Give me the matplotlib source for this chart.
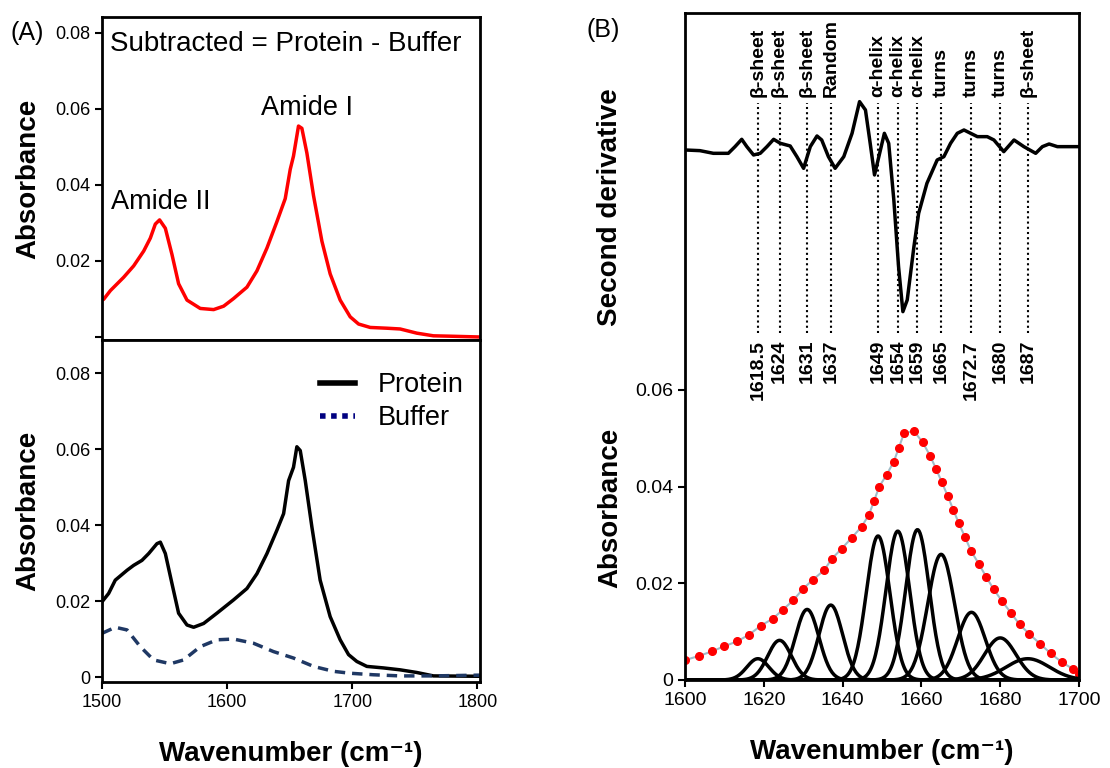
import numpy as np
import matplotlib
matplotlib.use('Agg')
import matplotlib.pyplot as plt
from matplotlib.lines import Line2D

plt.rcParams['font.family'] = ['Liberation Sans', 'DejaVu Sans']

# ---- panel A, top: subtracted spectrum ----
sub_x = [1500, 1501.3, 1506.7, 1517.3, 1525.3, 1533.3, 1538.6, 1542.6, 1546, 1550.6, 1555.9,
         1561.2, 1567.9, 1578.5, 1589.2, 1597.2, 1605.1, 1615.8, 1623.8, 1631.8, 1639.7,
         1646.4, 1650.4, 1653.0, 1657.0, 1659.7, 1663.7, 1669, 1675.7, 1682.3, 1690.3,
         1698.3, 1705, 1714.3, 1727.6, 1738.2, 1751.5, 1764.8, 1778.1, 1800.8]
sub_y = [0.0097, 0.0099, 0.0122, 0.0157, 0.0187, 0.0226, 0.0260, 0.0297, 0.0308, 0.0286, 0.0217,
         0.0140, 0.0097, 0.0075, 0.0072, 0.0081, 0.0101, 0.0131, 0.0174, 0.0234, 0.0303,
         0.0364, 0.0441, 0.0476, 0.0555, 0.0549, 0.0484, 0.0372, 0.0252, 0.0166, 0.0097,
         0.0053, 0.0034, 0.0025, 0.0023, 0.0021, 0.0010, 0.0003, 0.0002, 0.0]

# ---- panel A, bottom: protein and buffer ----
prot_x = [1500, 1505.3, 1510.6, 1520, 1525.3, 1531.9, 1537.3, 1543.9, 1546.6, 1550.6, 1555.9,
          1561.2, 1567.9, 1573.2, 1581.2, 1591.8, 1605.1, 1615.8, 1623.8, 1631.8, 1639.7,
          1645.1, 1649.1, 1653.0, 1655.7, 1658.4, 1662.4, 1667.7, 1674.3, 1682.3, 1690.3,
          1697, 1703.6, 1711.6, 1724.9, 1738.2, 1751.5, 1764.8, 1802]
prot_y = [0.0198, 0.0220, 0.0255, 0.0281, 0.0294, 0.0307, 0.0325, 0.0351, 0.0355, 0.0325, 0.0246,
          0.0168, 0.0137, 0.0131, 0.0141, 0.0168, 0.0203, 0.0233, 0.0272, 0.0325, 0.0386,
          0.0430, 0.0517, 0.0552, 0.0606, 0.0596, 0.0517, 0.0395, 0.0255, 0.0159, 0.0098,
          0.0059, 0.0041, 0.0028, 0.0024, 0.0019, 0.0012, 0.0003, 0.0002]

buf_x = [1500, 1510.6, 1520, 1530.6, 1541.2, 1554.6, 1565.2, 1578.5, 1591.8, 1605.1, 1621,
         1637, 1653, 1669, 1685, 1698.3, 1716.9, 1738.2, 1764.8, 1802]
buf_y = [0.0115, 0.0131, 0.0124, 0.0080, 0.0045, 0.0035, 0.0045, 0.0080, 0.0098, 0.0100, 0.0089,
         0.0067, 0.0050, 0.0028, 0.0015, 0.0010, 0.0006, 0.0003, 0.0003, 0.0005]

# ---- panel B: second derivative (arbitrary units) ----
d2_x = [1600.0, 1603.8, 1607.2, 1611.0, 1612.7, 1614.4, 1615.7, 1617.4, 1619.1, 1620.8, 1622.5,
        1624.2, 1626.7, 1628.4, 1630.1, 1631.8, 1633.5, 1634.7, 1636.4, 1638.1, 1640.3,
        1642.4, 1644.3, 1645.8, 1647.0, 1648.1, 1649.2, 1650.6, 1651.7, 1653.0, 1654.2,
        1655.3, 1656.4, 1658.1, 1659.3, 1661.4, 1664.0, 1665.7, 1667.4, 1669.1, 1670.8,
        1672.5, 1674.2, 1676.7, 1678.4, 1680.9, 1683.5, 1686.0, 1689.0, 1690.7, 1692.4,
        1694.5, 1700.0]
d2_y = [0, -0.02, -0.10, -0.10, 0.10, 0.32, 0.10, -0.15, -0.10, 0.10, 0.32,
        0.20, 0.12, -0.20, -0.55, 0.10, 0.42, 0.30, -0.20, -0.55, -0.20,
        0.50, 1.45, 1.20, 0.20, -0.75, -0.20, 0.50, 0.20, -1.50, -3.50,
        -4.85, -4.50, -2.90, -1.90, -1.00, -0.30, -0.20, 0.20, 0.50, 0.60,
        0.50, 0.40, 0.40, 0.30, -0.05, 0.30, 0.10, -0.10, 0.10, 0.18,
        0.10, 0.10]

# measured amide I envelope (one value per plotted dot)
env_x = [1600.0, 1603.6, 1606.8, 1610.0, 1613.3, 1616.3, 1619.2, 1622.3, 1624.8, 1627.5, 1629.9,
         1632.4, 1635.3, 1637.3, 1639.8, 1642.3, 1644.8, 1646.7, 1648.0, 1649.3, 1651.2,
         1653.0, 1654.3, 1655.6, 1658.1, 1660.3, 1662.2, 1663.7, 1665.2, 1666.7, 1668.1,
         1669.5, 1671.1, 1672.6, 1674.5, 1676.4, 1678.3, 1680.4, 1682.7, 1684.9, 1687.4,
         1690.1, 1692.8, 1695.6, 1698.4, 1700.0]
env_y = [0.0041, 0.0050, 0.0059, 0.0070, 0.0080, 0.0094, 0.0112, 0.0127, 0.0145, 0.0165, 0.0188,
         0.0207, 0.0227, 0.0251, 0.0272, 0.0294, 0.0317, 0.0342, 0.0371, 0.0400, 0.0425,
         0.0452, 0.0481, 0.0511, 0.0515, 0.0492, 0.0464, 0.0437, 0.0409, 0.0380, 0.0352,
         0.0324, 0.0295, 0.0267, 0.0241, 0.0214, 0.0188, 0.0164, 0.0139, 0.0115, 0.0095,
         0.0075, 0.0055, 0.0037, 0.0023, 0.0012]

# fitted component bands (centre, height, width)
band_pos = [1618.5, 1624, 1631, 1637, 1649, 1654, 1659, 1665, 1672.7, 1680, 1687]
band_h = [0.0044, 0.0082, 0.0146, 0.0155, 0.0298, 0.0308, 0.0311, 0.0260, 0.0140, 0.0087, 0.0044]
band_w = [2.8, 3.0, 3.0, 3.0, 3.0, 3.0, 3.0, 3.4, 3.5, 4.0, 5.5]
band_lbl = ['\u03b2-sheet', '\u03b2-sheet', '\u03b2-sheet', 'Random', '\u03b1-helix', '\u03b1-helix',
            '\u03b1-helix', 'turns', 'turns', 'turns', '\u03b2-sheet']
band_num = ['1618.5', '1624', '1631', '1637', '1649', '1654', '1659', '1665', '1672.7', '1680', '1687']


fig = plt.figure(figsize=(11.1, 7.68), dpi=100)

axA1 = fig.add_axes([0.0919, 0.5573, 0.3405, 0.4206])
axA2 = fig.add_axes([0.0919, 0.1120, 0.3405, 0.4453])
axB = fig.add_axes([0.6171, 0.1146, 0.3550, 0.8685])

for ax in (axA1, axA2, axB):
    for s in ax.spines.values():
        s.set_linewidth(2)
    ax.tick_params(direction='out', width=1.5, length=5)

# A top
axA1.plot(sub_x, sub_y, c='#ff0000', lw=2.5)
axA1.set_xlim(1500, 1802)
axA1.set_ylim(-0.0008, 0.0842)
axA1.set_xticks([])
axA1.set_yticks([0, 0.02, 0.04, 0.06, 0.08])
axA1.set_yticklabels(['', '0.02', '0.04', '0.06', '0.08'], fontsize=13)
axA1.set_ylabel('Absorbance', fontsize=20, fontweight='bold', labelpad=10)
axA1.text(0.021, 0.915, 'Subtracted = Protein - Buffer', transform=axA1.transAxes,
          fontsize=20, va='center', ha='left')
axA1.text(1507, 0.0355, 'Amide II', fontsize=19.5, va='center', ha='left')
axA1.text(1627, 0.0603, 'Amide I', fontsize=19.5, va='center', ha='left')

# A bottom
axA2.plot(prot_x, prot_y, c='black', lw=2.5)
axA2.plot(buf_x, buf_y, c='#1f3864', lw=2.5, ls=(0, (3, 2)))
axA2.set_xlim(1500, 1802)
axA2.set_ylim(-0.0013, 0.0887)
axA2.set_xticks([1500, 1600, 1700, 1800])
axA2.set_xticklabels(['1500', '1600', '1700', '1800'], fontsize=13)
axA2.set_yticks([0, 0.02, 0.04, 0.06, 0.08])
axA2.set_yticklabels(['0', '0.02', '0.04', '0.06', '0.08'], fontsize=13)
axA2.set_ylabel('Absorbance', fontsize=20, fontweight='bold', labelpad=10)
axA2.set_xlabel('Wavenumber (cm\u207b\u00b9)', fontsize=20, fontweight='bold', labelpad=22)
handles = [Line2D([], [], c='black', lw=4),
           Line2D([], [], c='#000080', lw=4, ls=(0, (1, 1)))]
axA2.legend(handles, ['Protein', 'Buffer'], loc='upper left', bbox_to_anchor=(0.54, 0.945),
            frameon=False, fontsize=19.5, handlelength=1.3, handletextpad=0.85,
            labelspacing=0.25, borderpad=0)

# B
axB.plot(env_x, env_y, c='#a0bcc8', lw=1.5, marker='o', ms=5.5, mfc='#ff0000', mec='#ff0000')
xx = np.linspace(1600, 1700, 400)
for p, h, w in zip(band_pos, band_h, band_w):
    axB.plot(xx, h * np.exp(-0.5 * ((xx - p) / w) ** 2), c='black', lw=2.5)
axB.set_xlim(1600, 1700)
axB.set_ylim(0, 0.138)
axB.set_xticks([1600, 1620, 1640, 1660, 1680, 1700])
axB.set_xticklabels(['1600', '1620', '1640', '1660', '1680', '1700'], fontsize=14)
axB.set_yticks([0, 0.02, 0.04, 0.06])
axB.set_yticklabels(['0', '0.02', '0.04', '0.06'], fontsize=14)
axB.set_xlabel('Wavenumber (cm\u207b\u00b9)', fontsize=20, fontweight='bold', labelpad=22)
axB.text(-0.19, 0.258, 'Absorbance', transform=axB.transAxes, rotation=90,
         fontsize=20, fontweight='bold', ha='center', va='center')
axB.text(-0.19, 0.709, 'Second derivative', transform=axB.transAxes, rotation=90,
         fontsize=20, fontweight='bold', ha='center', va='center')

tr = axB.get_xaxis_transform()
for p, lbl, num in zip(band_pos, band_lbl, band_num):
    axB.plot([p, p], [0.520, 0.865], transform=tr, c='black', lw=1.5, ls=(0, (1, 1.5)))
    axB.text(p, 0.874, lbl, transform=tr, rotation=90, ha='center', va='bottom',
             fontsize=14, fontweight='bold')
    axB.text(p, 0.510, num, transform=tr, rotation=90, ha='center', va='top',
             fontsize=14, fontweight='bold')

# overlay for the second derivative trace
axD = fig.add_axes(axB.get_position(), sharex=axB)
axD.patch.set_visible(False)
axD.axis('off')
axD.plot(d2_x, d2_y, c='black', lw=2.5)
axD.set_ylim(-15.9, 4.11)
axD.set_xlim(1600, 1700)

fig.text(27 / 1110, 1 - 33 / 768, '(A)', fontsize=18, ha='center', va='center')
fig.text(603 / 1110, 1 - 30 / 768, '(B)', fontsize=18, ha='center', va='center')

plt.savefig('out.png', dpi=100)
